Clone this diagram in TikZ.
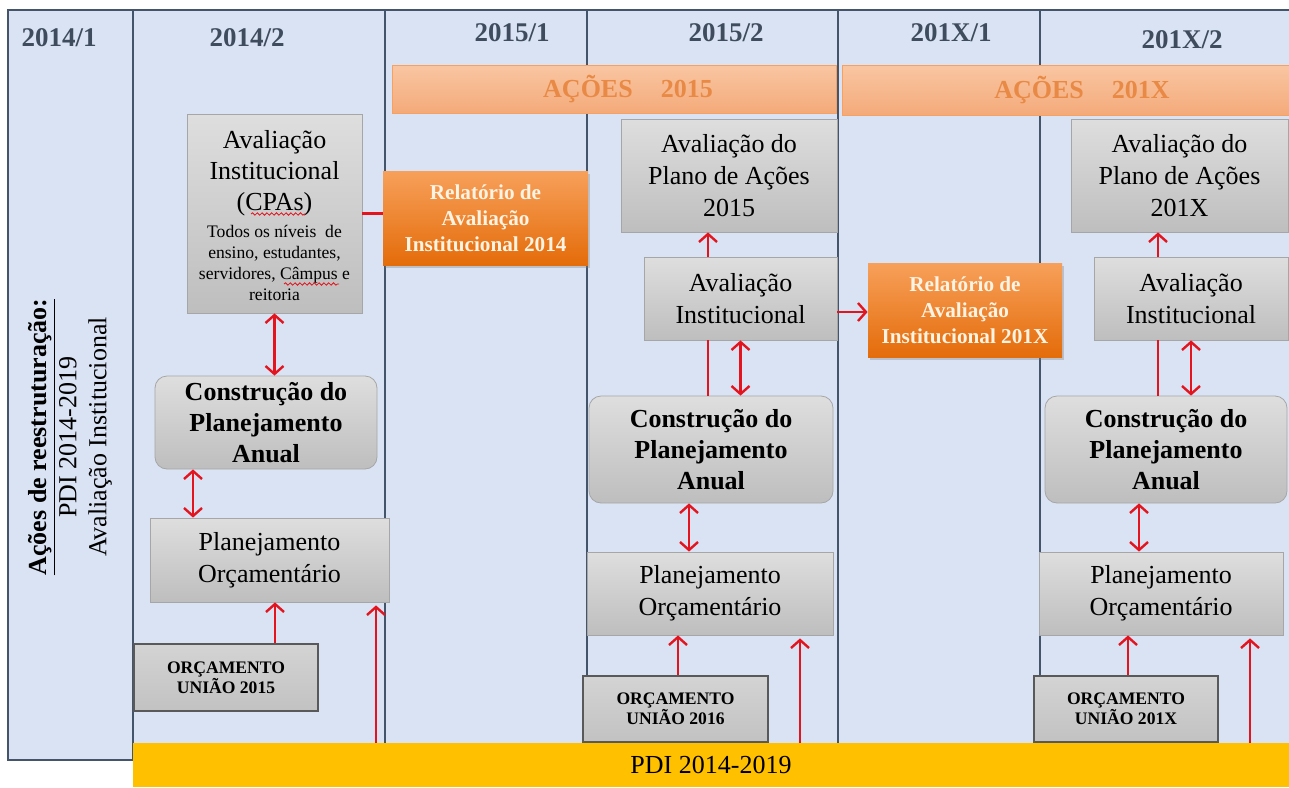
\documentclass[tikz,border=0pt]{standalone}
\usepackage{fontspec}
\setmainfont{Liberation Serif}
\usetikzlibrary{arrows.meta,shadows,decorations.pathmorphing}
\definecolor{fundo}{HTML}{DAE3F3}
\definecolor{linha}{HTML}{44546A}
\definecolor{cabec}{HTML}{3E4C5E}
\definecolor{cinzaA}{HTML}{DEDEDE}
\definecolor{cinzaB}{HTML}{BEBEBE}
\definecolor{bordacinza}{HTML}{A6A6A6}
\definecolor{laranjaA}{HTML}{F7A05A}
\definecolor{laranjaB}{HTML}{E46C0A}
\definecolor{salmaoA}{HTML}{F9C6A2}
\definecolor{salmaoB}{HTML}{F4AA7A}
\definecolor{textoacao}{HTML}{E88A45}
\definecolor{vermelho}{HTML}{E3141E}
\definecolor{amarelo}{HTML}{FFC000}
\definecolor{creme}{HTML}{FFF3E3}
\begin{document}
\begin{tikzpicture}[x=0.5pt,y=-0.5pt,
    caixa/.style={draw=bordacinza,top color=cinzaA,bottom color=cinzaB,inner sep=0pt,align=center,font=\fontsize{13}{16}\selectfont},
    constr/.style={caixa,rounded corners=6pt,font=\bfseries\fontsize{13}{15.5}\selectfont},
    orcam/.style={draw=black!65,line width=0.8pt,top color=black!17,bottom color=black!24,inner sep=0pt,align=center,font=\bfseries\fontsize{8.8}{10}\selectfont},
    relat/.style={top color=laranjaA,bottom color=laranjaB,text=creme,inner sep=0pt,align=center,font=\bfseries\fontsize{10.6}{13}\selectfont,drop shadow={shadow xshift=1.2pt,shadow yshift=-1.5pt,opacity=0.35}},
    acoes/.style={draw=salmaoB!80!orange,top color=salmaoA,bottom color=salmaoB,text=textoacao,inner sep=0pt,font=\bfseries\fontsize{13}{15}\selectfont},
    cabeca/.style={text=cabec,font=\bfseries\fontsize{13.5}{15}\selectfont},
    ondinha/.style={draw=vermelho,line width=0.4pt,decorate,decoration={snake,amplitude=0.6pt,segment length=2.4pt}},
    traco/.style={draw=vermelho,line width=1.2pt},
    setaup/.style={traco,-{Straight Barb[length=4pt,width=9pt]}},
    setadupla/.style={traco,{Straight Barb[length=4pt,width=9pt]}-{Straight Barb[length=4pt,width=9pt]}}]
    \useasboundingbox (0,0) rectangle (1289,787);
    \fill [fundo] (8,10) rectangle (1289,743);
    \fill [fundo] (8,743) rectangle (133,760);
    \draw [linha,line width=0.8pt] (8,10) rectangle (133,760);
    \draw [linha,line width=0.8pt] (133,10) -- (1289,10);
    \foreach \x in {385,587,838,1040}{
        \draw [linha,line width=1pt] (\x,10) -- (\x,743);
    }
    \node [fill=amarelo,minimum width=578pt,minimum height=22pt,inner sep=0pt,font=\fontsize{13}{15}\selectfont] (pdi) at (711,765) {PDI 2014-2019};
    \node [rotate=90,align=center,font=\fontsize{13}{15}\selectfont] (eixo) at (70,437) {\textbf{\underline{Ações de reestruturação:}}\\PDI 2014-2019\\Avaliação Institucional};
    \foreach[count=\i] \x/\y/\a/\b in {59/38/2014/1,247/38/2014/2,512/33/2015/1,726/33/2015/2,951/33/201X/1,1182/40/201X/2}{
        \node [cabeca] (sem\i) at (\x,\y) {\a/\b};
    }
    \node [acoes,minimum width=222pt,minimum height=24pt] (ac15) at (614,89) {\hspace*{14pt}AÇÕES\hspace{14pt}2015};
    \node [acoes,minimum width=223.5pt,minimum height=25pt] (acX) at (1065.5,90) {\hspace*{16.5pt}AÇÕES\hspace{14pt}201X};

    \node [caixa,minimum width=87.5pt,minimum height=99.5pt] (cpa) at (274.5,213.5) {};
    \node [align=center,inner sep=0pt,font=\fontsize{13}{15.5}\selectfont] (cpatit) at (274.5,173) {Avaliação\\Institucional\\(CPAs)};
    \node [align=center,inner sep=0pt,font=\fontsize{8.8}{10.5}\selectfont] (cpatxt) at (274.5,263) {Todos os níveis\ \ de\\ensino, estudantes,\\servidores, Câmpus e\\reitoria};
    \node [relat,minimum width=102.5pt,minimum height=47pt] (rel14) at (485.5,218) {Relatório de\\Avaliação\\Institucional 2014};
    \node [constr,minimum width=111pt,minimum height=46.5pt] (con14) at (266,422.5) {Construção do\\Planejamento\\Anual};
    \node [caixa,minimum width=119.5pt,minimum height=42pt] (plan14) at (269.5,560) {Planejamento\\Orçamentário};
    \node [orcam,minimum width=92pt,minimum height=33.5pt] (orc15) at (226,677.5) {ORÇAMENTO\\UNIÃO 2015};

    \node [caixa,minimum width=108pt,minimum height=56.5pt] (avp15) at (729,175.5) {Avaliação do\\Plano de Ações\\2015};
    \node [caixa,minimum width=96.5pt,minimum height=41.5pt] (avi15) at (740.5,298.5) {Avaliação\\Institucional};
    \node [relat,minimum width=97pt,minimum height=47pt] (relX) at (965,310) {Relatório de\\Avaliação\\Institucional 201X};
    \node [constr,minimum width=122pt,minimum height=53.5pt] (con15) at (711,449.5) {Construção do\\Planejamento\\Anual};
    \node [caixa,minimum width=123pt,minimum height=41.5pt] (plan15) at (710,593.5) {Planejamento\\Orçamentário};
    \node [orcam,minimum width=92.5pt,minimum height=33pt] (orc16) at (675.5,709) {ORÇAMENTO\\UNIÃO 2016};

    \node [caixa,minimum width=108.5pt,minimum height=56.5pt] (avpX) at (1179.5,175.5) {Avaliação do\\Plano de Ações\\201X};
    \node [caixa,minimum width=97pt,minimum height=41.5pt] (aviX) at (1191,298.5) {Avaliação\\Institucional};
    \node [constr,minimum width=121pt,minimum height=53.5pt] (conX) at (1166,449.5) {Construção do\\Planejamento\\Anual};
    \node [caixa,minimum width=122pt,minimum height=41.5pt] (planX) at (1161,593.5) {Planejamento\\Orçamentário};
    \node [orcam,minimum width=92pt,minimum height=33pt] (orcX) at (1126,709) {ORÇAMENTO\\UNIÃO 201X};

    \draw [ondinha] (251,214) -- (306,214);
    \draw [ondinha] (284,284) -- (339,284);

    \coordinate (b14) at (376,743);
    \coordinate (b15) at (800,743);
    \coordinate (bX) at (1250,743);

    \draw [traco] (cpa.east) -- (cpa.east -| rel14.west);
    \draw [setadupla] (cpa.south) -- (cpa.south |- con14.north);
    \draw [setadupla] ([xshift=-36.5pt]con14.south) coordinate (d14) -- (d14 |- plan14.north);
    \draw [setaup] ([xshift=24.5pt]orc15.north) coordinate (o14) -- (o14 |- plan14.south);
    \draw [setaup,shorten >=1.5pt] (b14) -- (b14 |- plan14.south);

    \draw [setaup] ([xshift=-16.25pt]avi15.north) coordinate (u15) -- (u15 |- avp15.south);
    \draw [traco] ([xshift=-16.25pt]avi15.south) coordinate (t15) -- (t15 |- con15.north);
    \draw [setadupla] (avi15.south) -- (avi15.south |- con15.north);
    \draw [setaup] ([yshift=-6.75pt]avi15.east) coordinate (r15) -- (r15 -| relX.west);
    \draw [setadupla] ([xshift=-11pt]con15.south) coordinate (d15) -- (d15 |- plan15.north);
    \draw [setaup] ([xshift=1.25pt]orc16.north) coordinate (o15) -- (o15 |- plan15.south);
    \draw [setaup,shorten >=1.5pt] (b15) -- (b15 |- plan15.south);

    \draw [setaup] ([xshift=-16.5pt]aviX.north) coordinate (uX) -- (uX |- avpX.south);
    \draw [traco] ([xshift=-16.5pt]aviX.south) coordinate (tX) -- (tX |- conX.north);
    \draw [setadupla] (aviX.south) -- (aviX.south |- conX.north);
    \draw [setadupla] ([xshift=-13.5pt]conX.south) coordinate (dX) -- (dX |- planX.north);
    \draw [setaup] ([xshift=1pt]orcX.north) coordinate (oX) -- (oX |- planX.south);
    \draw [setaup,shorten >=1.5pt] (bX) -- (bX |- planX.south);
\end{tikzpicture}
\end{document}
